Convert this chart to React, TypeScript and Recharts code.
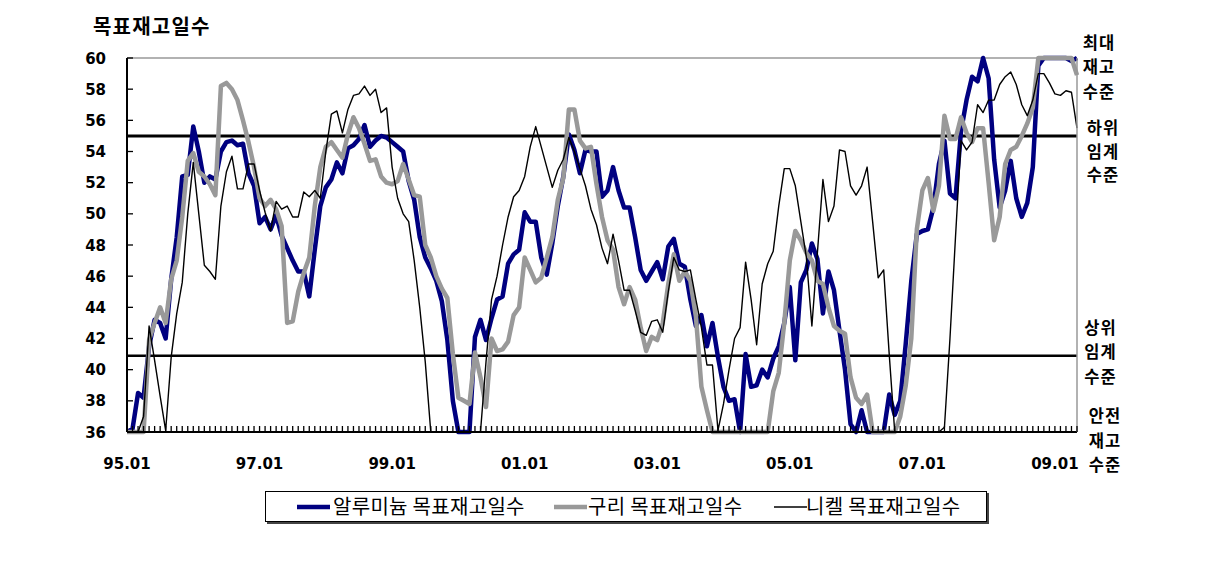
import React from 'react';
import { LineChart, Line, XAxis, YAxis, ReferenceLine, Legend, Customized } from 'recharts';

// Monthly categories 95.01 .. 09.05
const months: string[] = [];
for (let yr = 1995; yr <= 2009; yr++) {
  for (let m = 1; m <= 12; m++) {
    if (yr === 2009 && m > 5) break;
    months.push(`${String(yr % 100).padStart(2, '0')}.${String(m).padStart(2, '0')}`);
  }
}

const xLabelTicks = ['95.01', '97.01', '99.01', '01.01', '03.01', '05.01', '07.01', '09.01'];
const yTicks = [36, 38, 40, 42, 44, 46, 48, 50, 52, 54, 56, 58, 60];
const lowerLevel = 40.9;
const upperLevel = 55;
const maxLevel = 60;

const aluminium = [
  36, 36.2, 38.5, 38.2, 41.5, 43.2, 43.0, 42.0, 45.8, 48.5,
  52.4, 52.5, 55.6, 54.0, 52.0, 52.4, 52.2, 54.0, 54.6, 54.7,
  54.4, 54.5, 52.6, 51.8, 49.4, 49.8, 49.0, 49.9, 48.6, 47.8,
  47.0, 46.3, 46.3, 44.7, 47.7, 50.5, 51.7, 52.2, 53.3, 52.6,
  54.2, 54.4, 54.8, 55.7, 54.3, 54.7, 55.0, 54.9, 54.6, 54.3,
  54.0, 52.1, 50.9, 48.5, 47.2, 46.5, 45.7, 44.4, 41.9, 38.0,
  36, 36, 36, 42.1, 43.2, 41.9, 43.3, 44.5, 44.7, 46.8,
  47.4, 47.7, 50.1, 49.5, 49.5, 47.2, 46.1, 48.1, 50.5, 52.4,
  55.1, 54.1, 52.6, 54.1, 54.0, 54.0, 51.1, 51.5, 53.0, 51.5,
  50.4, 50.4, 48.5, 46.4, 45.7, 46.3, 46.9, 45.8, 47.9, 48.4,
  46.8, 46.6, 44.5, 42.8, 43.5, 41.5, 43.0, 40.8, 38.9, 38.0,
  38.1, 36, 41.0, 38.9, 39.0, 40.0, 39.5, 40.7, 41.5, 43.0,
  45.3, 40.6, 45.6, 46.4, 48.1, 47.1, 43.6, 46.3, 45.1, 42.5,
  40.0, 36.5, 36, 37.4, 36, 36, 36, 36, 38.4, 37.1,
  38.0, 41.7, 45.7, 48.7, 48.9, 49.0, 50.4, 53.2, 54.7, 51.3,
  51.0, 55.3, 57.3, 58.8, 58.5, 60, 58.7, 53.5, 50.4, 51.5,
  53.4, 51.0, 49.8, 50.7, 53.0, 59.5, 60, 60, 60, 60,
  60, 59.8, 60,
];

const copper = [
  36, 36, 36, 36, 41.9, 43.0, 44.0, 43.0, 45.8, 47.0,
  49.8, 53.4, 53.9, 52.7, 52.4, 51.9, 51.2, 58.2, 58.4, 58.0,
  57.3, 56.0, 54.6, 53.0, 51.0, 50.5, 50.9, 50.3, 49.2, 43.0,
  43.1, 45.0, 46.2, 47.2, 50.5, 53.0, 54.3, 54.6, 54.1, 53.6,
  55.1, 56.2, 55.5, 54.5, 53.4, 53.5, 52.4, 52.0, 51.9, 52.1,
  53.2, 52.2, 51.2, 51.1, 48.0, 47.2, 46.0, 45.2, 44.6, 41.0,
  38.2, 38.0, 37.8, 41.1, 39.5, 37.6, 42.0, 41.2, 41.3, 41.8,
  43.5, 44.0, 47.2, 46.4, 45.6, 45.9, 47.2, 48.5, 50.9, 52.3,
  56.7, 56.7, 54.7, 54.2, 54.3, 51.9, 49.8, 48.3, 47.7, 45.3,
  44.2, 45.3, 44.5, 42.7, 41.2, 42.1, 41.9, 43.0, 45.5, 47.4,
  45.7, 46.3, 45.7, 43.4, 38.9, 37.4, 36, 36, 36, 36,
  36, 36, 36, 36, 36, 36, 36, 38.6, 39.8, 43.0,
  47.0, 48.9, 48.3, 47.5, 47.0, 45.7, 45.5, 44.0, 42.8, 42.5,
  42.3, 39.5, 38.2, 37.8, 38.4, 36, 36, 36, 36, 36,
  37.0, 39.0, 42.0, 49.0, 51.5, 52.3, 50.2, 51.8, 56.3, 54.8,
  54.8, 56.2, 55.2, 54.6, 55.5, 55.5, 52.0, 48.3, 49.8, 53.2,
  54.1, 54.3, 55.0, 55.8, 56.8, 60, 60, 60, 60, 60,
  60, 60, 58.9,
];

const nickel = [
  36, 36, 36, 37.0, 42.8, 40.6, 38.3, 36.1, 40.8, 43.6,
  45.6, 50.0, 53.3, 50.0, 46.7, 46.3, 45.8, 50.5, 52.7, 53.7,
  51.6, 51.6, 53.2, 53.2, 51.5, 50.1, 48.9, 50.8, 50.3, 50.5,
  49.8, 49.8, 51.4, 51.1, 51.5, 51.0, 54.0, 56.4, 56.6, 55.2,
  56.7, 57.6, 57.7, 58.2, 57.6, 58.0, 56.5, 56.8, 53.0, 51.0,
  50.0, 49.5, 47.0, 44.0, 40.5, 36, 36, 36, 36, 36,
  36, 36, 36, 36, 36, 40.5, 44.5, 46.0, 48.0, 49.8,
  51.1, 51.5, 52.4, 54.3, 55.6, 54.3, 53.0, 51.7, 52.8, 53.5,
  54.9, 54.0, 52.9, 51.8, 50.3, 49.3, 47.8, 46.8, 48.7, 47.0,
  45.1, 45.1, 43.8, 42.4, 42.2, 43.1, 43.2, 42.4, 45.0, 47.2,
  46.4, 46.3, 46.4, 44.5, 42.7, 40.3, 40.3, 36.1, 37.8, 40.0,
  42.0, 42.7, 46.9, 44.5, 41.6, 45.5, 46.8, 47.6, 50.5, 52.9,
  52.9, 51.8, 49.5, 47.2, 42.8, 47.5, 52.2, 49.5, 50.5, 54.1,
  54.0, 51.8, 51.2, 51.8, 53.0, 49.5, 45.9, 46.4, 41.0, 36,
  36, 36, 36, 36, 36, 36, 36, 36, 36.3, 42.0,
  48.5, 54.7, 54.1, 54.6, 57.0, 56.5, 57.3, 57.3, 58.3, 58.8,
  59.1, 58.3, 57.0, 56.3, 57.3, 59.0, 59.0, 58.4, 57.7, 57.6,
  57.9, 57.8, 55.5,
];

const seriesNames = ['알루미늄 목표재고일수', '구리 목표재고일수', '니켈 목표재고일수'];
const seriesColors = ['#000080', '#999999', '#000000'];
const seriesWidths = [4.5, 4.5, 1.4];
const seriesKeys = ['al', 'cu', 'ni'];

const data = months.map((m, i) => ({ month: m, al: aluminium[i], cu: copper[i], ni: nickel[i] }));

const sideLabels = [
  { lines: ['최대', '재고', '수준'], cx: 1091, cys: [35, 59, 84] },
  { lines: ['하위', '임계', '수준'], cx: 1095, cys: [119.5, 143.5, 167] },
  { lines: ['상위', '임계', '수준'], cx: 1092.5, cys: [319.5, 343.5, 368.5] },
  { lines: ['안전', '재고', '수준'], cx: 1097, cys: [408, 432.5, 457] },
];

const KFONT = "'Noto Sans CJK KR', 'Noto Sans', sans-serif";
const NFONT = "'DejaVu Sans', Verdana, sans-serif";
const Y_MARGIN = 21;

const YTick = (props: any) => {
  const { x, y, payload } = props;
  return (
    <g>
      <line x1={x + Y_MARGIN} y1={y} x2={x + Y_MARGIN + 6} y2={y} stroke="#000" strokeWidth={1.3} />
      <text x={x} y={y + 5.5} textAnchor="end" fontFamily={NFONT} fontWeight="bold" fontSize={15} fill="#000">
        {payload.value}
      </text>
    </g>
  );
};

const XTick = (props: any) => {
  const { x, y, payload } = props;
  const half = payload && typeof payload.offset === 'number' ? payload.offset : 0;
  const bx = x - half;
  return (
    <g>
      <line x1={bx} y1={y} x2={bx} y2={y - 6} stroke="#000" strokeWidth={1.3} />
      {xLabelTicks.includes(payload.value) && (
        <text x={x} y={y + 37} textAnchor="middle" fontFamily={NFONT} fontWeight="bold" fontSize={15} fill="#000">
          {payload.value}
        </text>
      )}
    </g>
  );
};

const Annotations = () => (
  <g>
    <text x={85} y={26} fontFamily={KFONT} fontWeight="bold" fontSize={20} fill="#000" letterSpacing={1.2}>
      목표재고일수
    </text>
    {sideLabels.map((g, gi) =>
      g.lines.map((t, li) => (
        <text
          key={`${gi}-${li}`}
          x={g.cx}
          y={g.cys[li] + 6}
          textAnchor="middle"
          fontFamily={KFONT}
          fontWeight="bold"
          fontSize={16.5}
          letterSpacing={1}
          fill="#000"
        >
          {t}
        </text>
      ))
    )}
  </g>
);

const legendLayout = [
  { lineX: 31, textX: 67 },
  { lineX: 288, textX: 322 },
  { lineX: 508, textX: 540 },
];

const renderLegend = () => (
  <div
    style={{
      width: '100%',
      height: '100%',
      boxSizing: 'border-box',
      border: '1px solid #000',
      boxShadow: '2px 2px 0 #444',
      background: '#fff',
      position: 'relative',
    }}
  >
    <svg width={720} height={29} style={{ position: 'absolute', left: 0, top: 0 }}>
      {seriesNames.map((n, i) => (
        <g key={n}>
          <line
            x1={legendLayout[i].lineX}
            y1={15}
            x2={legendLayout[i].lineX + 33}
            y2={15}
            stroke={seriesColors[i]}
            strokeWidth={seriesWidths[i]}
          />
          <text x={legendLayout[i].textX} y={21.5} fontFamily={KFONT} fontSize={20} letterSpacing={0.3} fill="#000">
            {n}
          </text>
        </g>
      ))}
    </svg>
  </div>
);

export default function App() {
  return (
    <div style={{ width: 1191, height: 565, position: 'relative', background: '#fff' }}>
      <LineChart width={1191} height={565} data={data} margin={{ top: 50, right: 121, bottom: 101, left: 69 }}>
        <XAxis
          dataKey="month"
          interval={0}
          tickSize={0}
          tickMargin={0}
          tickLine={false}
          tick={<XTick />}
          axisLine={{ stroke: '#000', strokeWidth: 2 }}
          height={40}
        />
        <YAxis
          yAxisId="left"
          domain={[36, 60]}
          ticks={yTicks}
          interval={0}
          tickSize={0}
          tickMargin={Y_MARGIN}
          tickLine={false}
          tick={<YTick />}
          axisLine={{ stroke: '#000', strokeWidth: 2 }}
          width={50}
        />
        <YAxis
          yAxisId="right"
          orientation="right"
          domain={[36, 60]}
          ticks={yTicks}
          tick={false}
          tickLine={false}
          axisLine={{ stroke: '#999999', strokeWidth: 1.5 }}
          width={1}
        />
        <ReferenceLine yAxisId="left" y={maxLevel} stroke="#999999" strokeWidth={1.5} />
        <ReferenceLine yAxisId="left" y={upperLevel} stroke="#000" strokeWidth={3} />
        <ReferenceLine yAxisId="left" y={lowerLevel} stroke="#000" strokeWidth={2.5} />
        {seriesKeys.map((k, i) => (
          <Line
            key={k}
            yAxisId="left"
            type="linear"
            dataKey={k}
            name={seriesNames[i]}
            stroke={seriesColors[i]}
            strokeWidth={seriesWidths[i]}
            strokeLinejoin="round"
            dot={false}
            activeDot={false}
            isAnimationActive={false}
          />
        ))}
        <Legend
          layout="horizontal"
          verticalAlign="middle"
          content={renderLegend}
          wrapperStyle={{ left: 257, top: 483, width: 722, height: 31, right: 'auto', bottom: 'auto' }}
        />
        <Customized component={Annotations} />
      </LineChart>
    </div>
  );
}
